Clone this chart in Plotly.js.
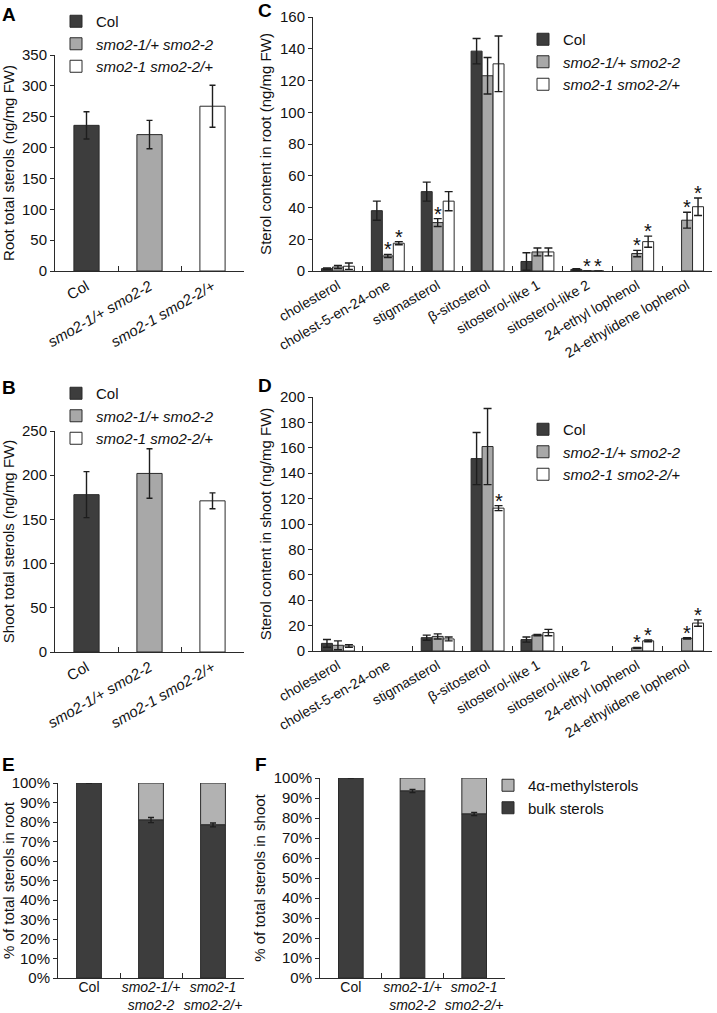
<!DOCTYPE html>
<html><head><meta charset="utf-8">
<script src="https://cdn.plot.ly/plotly-3.0.1.min.js"></script>
<style>html,body{margin:0;padding:0;background:#fff}#chart{width:717px;height:1013px}</style>
</head><body><div id="chart"></div>
<script>
// ---------- data ----------
const seriesNames = ['Col', '<i>smo2-1/+ smo2-2</i>', '<i>smo2-1 smo2-2/+</i>'];
const genotypeTicks = ['Col', '<i>smo2-1/+ smo2-2</i>', '<i>smo2-1 smo2-2/+</i>'];
const genotypeTicks2 = ['Col', '<i>smo2-1/+</i><br><i>smo2-2</i>', '<i>smo2-1</i><br><i>smo2-2/+</i>'];

// A: root total sterols
const rootTotal = [236, 221, 267];
const rootTotalErr = [22, 23, 34];
// B: shoot total sterols
const shootTotal = [178, 202, 171];
const shootTotalErr = [26, 28, 9];

// C / D: individual sterols
const sterols = ['cholesterol', 'cholest-5-en-24-one', 'stigmasterol', 'β-sitosterol',
  'sitosterol-like 1', 'sitosterol-like 2', '24-ethyl lophenol', '24-ethylidene lophenol'];

const rootCol = [1.5, 38, 50, 138.5, 6, 1, null, null];
const rootColErr = [0.5, 6, 6, 8, 5.5, 0.5, null, null];
const rootSmoA = [2.5, 9.5, 30.5, 123, 12, 0, 11, 32];
const rootSmoAErr = [1, 1, 2.5, 11.5, 2.5, 0, 2, 5];
const rootSmoB = [3, 17.5, 44, 130.5, 12, 0, 18.5, 40.5];
const rootSmoBErr = [2, 1, 6, 17.5, 2.5, 0, 3.5, 5.5];
const rootSigA = [0, 1, 1, 0, 0, 1, 1, 1];
const rootSigB = [0, 1, 0, 0, 0, 1, 1, 1];

const shootCol = [6, null, 10.5, 151.5, 9, null, null, null];
const shootColErr = [3, null, 2, 20.5, 2, null, null, null];
const shootSmoA = [4.5, null, 11.5, 161, 12.5, null, 2.5, 10];
const shootSmoAErr = [3.5, null, 2, 30, 0.5, null, 0.3, 0.5];
const shootSmoB = [4, null, 9.5, 112.5, 14.5, null, 8, 22];
const shootSmoBErr = [1, null, 1.5, 2, 2.5, null, 0.7, 2.5];
const shootSigA = [0, 0, 0, 0, 0, 0, 1, 1];
const shootSigB = [0, 0, 0, 1, 0, 0, 1, 1];

// E / F: proportions
const rootBulk = [100, 81, 78.5];
const rootBulkErr = [null, 1.3, 1];
const rootMethyl = [null, 19, 21.5];
const shootBulk = [100, 93.5, 82];
const shootBulkErr = [null, 0.8, 0.8];
const shootMethyl = [null, 6.5, 18];
const fractionNames = ['4α-methylsterols', 'bulk sterols'];

// ---------- style ----------
const FONT = 'Liberation Sans, Arial, sans-serif';
const colors = ['#3d3d3d', '#a8a8a8', '#ffffff'];
const methylColor = '#b2b2b2';
const lineCol = '#2a2a2a';
const W = 717, H = 1013;
const px = v => v / W;
const py = v => 1 - v / H;

const traces = [];
const annotations = [];

function errBar(arr, w) {
  return {type: 'data', array: arr, visible: true, color: '#1e1e1e', thickness: 1.4, width: w};
}

// A and B
function totalPanel(vals, errs, xa, ya, leg) {
  for (let k = 0; k < 3; k++) {
    traces.push({
      type: 'bar', x: [genotypeTicks[k]], y: [vals[k]], name: seriesNames[k],
      xaxis: xa, yaxis: ya, legend: leg, width: 0.4, offset: -0.2,
      marker: {color: colors[k], line: {color: lineCol, width: 1}},
      error_y: errBar([errs[k]], 3), hoverinfo: 'y'
    });
  }
}
totalPanel(rootTotal, rootTotalErr, 'x', 'y', 'legend');
totalPanel(shootTotal, shootTotalErr, 'x3', 'y3', 'legend3');

// C and D
function sterolPanel(series, errs, sigs, xa, ya, leg) {
  const offs = [-0.33, -0.11, 0.11];
  const bw = 0.22;
  for (let k = 0; k < 3; k++) {
    traces.push({
      type: 'bar', x: sterols, y: series[k], name: seriesNames[k],
      xaxis: xa, yaxis: ya, legend: leg, width: bw, offset: offs[k],
      marker: {color: colors[k], line: {color: lineCol, width: 1}},
      error_y: errBar(errs[k], 4), hoverinfo: 'y'
    });
  }
  for (let k = 1; k < 3; k++) {
    sigs[k - 1].forEach((s, i) => {
      if (!s) return;
      const top = (series[k][i] || 0) + (errs[k][i] || 0);
      annotations.push({
        xref: xa, yref: ya, x: i + offs[k] + bw / 2, y: top, text: '*',
        showarrow: false, yanchor: 'bottom', yshift: -8,
        font: {family: FONT, size: 20, color: '#111'}
      });
    });
  }
}
sterolPanel([rootCol, rootSmoA, rootSmoB], [rootColErr, rootSmoAErr, rootSmoBErr],
  [rootSigA, rootSigB], 'x2', 'y2', 'legend2');
sterolPanel([shootCol, shootSmoA, shootSmoB], [shootColErr, shootSmoAErr, shootSmoBErr],
  [shootSigA, shootSigB], 'x4', 'y4', 'legend4');

// E and F
function fractionPanel(bulk, bulkErr, methyl, xa, ya, leg, show) {
  traces.push({
    type: 'bar', x: genotypeTicks2, y: methyl, base: bulk, name: fractionNames[0],
    xaxis: xa, yaxis: ya, legend: leg, showlegend: show, width: 0.4, offset: -0.2,
    marker: {color: methylColor, line: {color: lineCol, width: 1}}, hoverinfo: 'y'
  });
  traces.push({
    type: 'bar', x: genotypeTicks2, y: bulk, name: fractionNames[1],
    xaxis: xa, yaxis: ya, legend: leg, showlegend: show, width: 0.4, offset: -0.2,
    marker: {color: colors[0], line: {color: lineCol, width: 1}},
    error_y: errBar(bulkErr, 3), hoverinfo: 'y'
  });
}
fractionPanel(rootBulk, rootBulkErr, rootMethyl, 'x5', 'y5', 'legend5', false);
fractionPanel(shootBulk, shootBulkErr, shootMethyl, 'x6', 'y6', 'legend5', true);

// ---------- axes ----------
const tickFont = {family: FONT, size: 15, color: '#111'};
function yAxis(domain, anchor, range, dtick, title, suffix) {
  return {
    domain: domain, anchor: anchor, range: range, dtick: dtick, tick0: 0,
    showline: true, linecolor: lineCol, linewidth: 1, ticks: 'outside', ticklen: 4,
    tickcolor: lineCol, showgrid: false, zeroline: false, ticksuffix: suffix || '',
    tickfont: tickFont, fixedrange: true,
    title: {text: title, font: {family: FONT, size: 15, color: '#111'}, standoff: 4}
  };
}
function xAxis(domain, anchor, cats, angle, size, standoff) {
  return {
    domain: domain, anchor: anchor, type: 'category', categoryorder: 'array',
    categoryarray: cats, range: [-0.5, cats.length - 0.5],
    showline: true, linecolor: lineCol, linewidth: 1, ticks: 'inside', ticklen: 5,
    tickcolor: lineCol, tickson: 'boundaries', showgrid: false, zeroline: false,
    ticklabelstandoff: standoff || 0,
    tickangle: angle, tickfont: {family: FONT, size: size, color: '#111'}, fixedrange: true
  };
}

const dA = {x: [px(55), px(244)], y: [py(271), py(55)]};
const dC = {x: [px(313), px(712)], y: [py(271), py(17)]};
const dB = {x: [px(55), px(244)], y: [py(652), py(431)]};
const dD = {x: [px(313), px(712)], y: [py(651), py(397)]};
const dE = {x: [px(58), px(244)], y: [py(978), py(783)]};
const dF = {x: [px(320), px(505)], y: [py(978), py(778)]};

function legendAt(xText, yTop) {
  return {
    x: px(xText - 40), y: py(yTop), xanchor: 'left', yanchor: 'top',
    bgcolor: 'rgba(0,0,0,0)', font: {family: FONT, size: 15, color: '#111'},
    itemclick: false, itemdoubleclick: false
  };
}

// panel letters
[['A', 0, 2], ['B', 0, 375], ['C', 256, -2], ['D', 256, 373], ['E', 0, 752], ['F', 253, 752]]
  .forEach(([t, x, y]) => annotations.push({
    xref: 'paper', yref: 'paper', x: px(x), y: py(y), xanchor: 'left', yanchor: 'top',
    text: '<b>' + t + '</b>', showarrow: false, font: {family: FONT, size: 19, color: '#000'}
  }));

const layout = {
  width: W, height: H, margin: {l: 0, r: 0, t: 0, b: 0},
  paper_bgcolor: '#fff', plot_bgcolor: 'rgba(0,0,0,0)',
  barmode: 'overlay', font: {family: FONT, color: '#111'},
  xaxis: xAxis(dA.x, 'y', genotypeTicks, -30, 15),
  yaxis: yAxis(dA.y, 'x', [0, 350], 50, 'Root total sterols (ng/mg FW)'),
  xaxis2: xAxis(dC.x, 'y2', sterols, -30, 14),
  yaxis2: yAxis(dC.y, 'x2', [0, 160], 20, 'Sterol content in root (ng/mg FW)'),
  xaxis3: xAxis(dB.x, 'y3', genotypeTicks, -30, 15),
  yaxis3: yAxis(dB.y, 'x3', [0, 250], 50, 'Shoot total sterols (ng/mg FW)'),
  xaxis4: xAxis(dD.x, 'y4', sterols, -30, 14),
  yaxis4: yAxis(dD.y, 'x4', [0, 200], 20, 'Sterol content in shoot (ng/mg FW)'),
  xaxis5: xAxis(dE.x, 'y5', genotypeTicks2, 0, 14, -4),
  yaxis5: yAxis(dE.y, 'x5', [0, 100], 10, '% of total sterols in root', '%'),
  xaxis6: xAxis(dF.x, 'y6', genotypeTicks2, 0, 14, -4),
  yaxis6: yAxis(dF.y, 'x6', [0, 100], 10, '% of total sterols in shoot', '%'),
  legend: legendAt(96, 5),
  legend2: legendAt(563, 23),
  legend3: legendAt(96, 377),
  legend4: legendAt(563, 413),
  legend5: legendAt(528, 769),
  annotations: annotations,
  showlegend: true
};

Plotly.newPlot('chart', traces, layout, {displayModeBar: false, staticPlot: true});
</script>
</body></html>
